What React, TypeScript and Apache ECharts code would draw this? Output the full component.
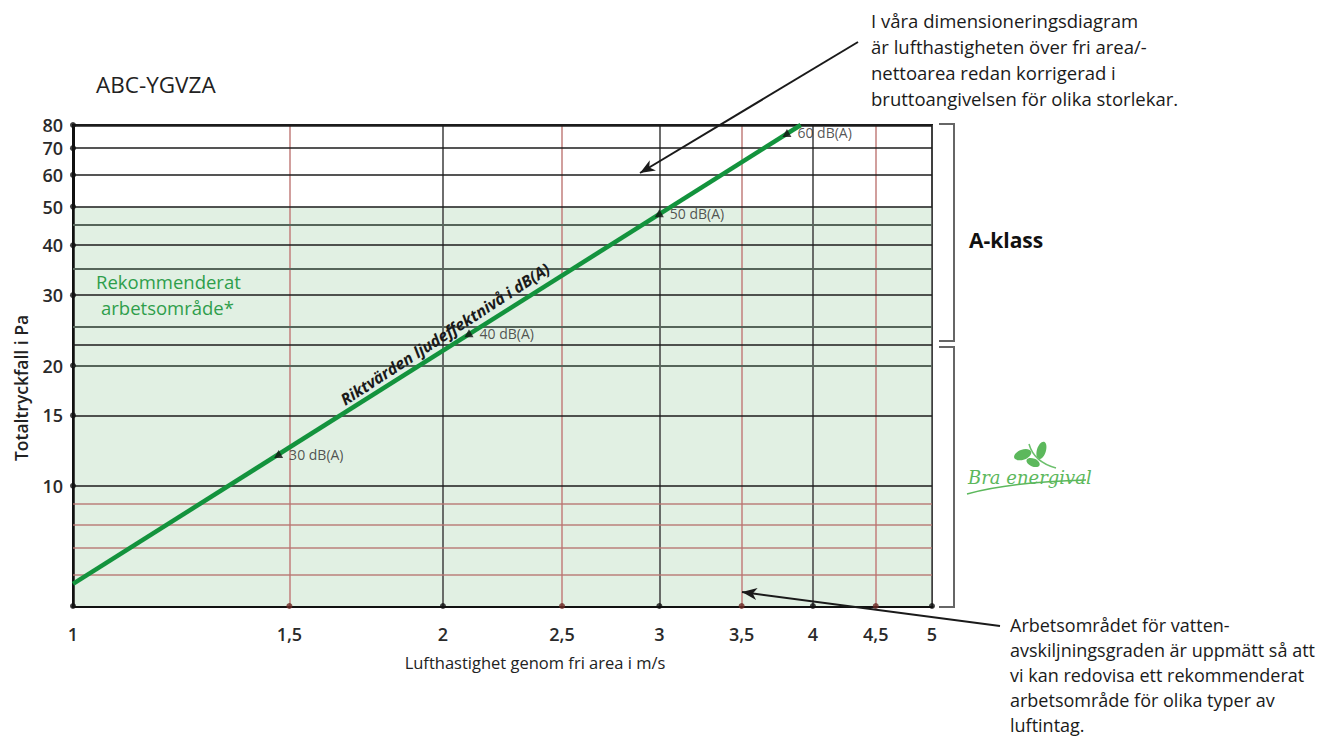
import React, { useEffect, useRef } from 'react';
import * as echarts from 'echarts';

// ---- data ----
const xTicks = [1, 1.5, 2, 2.5, 3, 3.5, 4, 4.5, 5];
const xTickLabels = ['1', '1,5', '2', '2,5', '3', '3,5', '4', '4,5', '5'];
const xRedLines = [1.5, 2.5, 3.5, 4.5];
const yTicks = [10, 15, 20, 30, 40, 50, 60, 70, 80];
const yBlackLines = [10, 15, 22.5, 30, 40, 50, 60, 70, 80];
const yGreyLines = [20, 25, 35, 45];
const yRedLines = [6, 7, 8, 9];
const xMin = 1;
const xMax = 5;
const yMin = 5;
const yMax = 80;
const zoneLow = 5;
const zoneHigh = 50;
const soundLineX = [1, 3.91];
const soundLineY = [5.68, 80];
const noiseX = [1.47, 2.1, 3.0, 3.81];
const noiseY = [12.0, 24.1, 48.1, 76.4];
const noiseLabels = ['30 dB(A)', '40 dB(A)', '50 dB(A)', '60 dB(A)'];

const FONT = '"Open Sans", "Noto Sans", sans-serif';

function arrowHead(tail: number[], tip: number[], len = 15, half = 6) {
  const dx = tip[0] - tail[0];
  const dy = tip[1] - tail[1];
  const L = Math.hypot(dx, dy);
  const ux = dx / L;
  const uy = dy / L;
  const bx = tip[0] - ux * len;
  const by = tip[1] - uy * len;
  const nx = tip[0] - ux * len * 0.72;
  const ny = tip[1] - uy * len * 0.72;
  return [
    [tip[0], tip[1]],
    [bx - uy * half, by + ux * half],
    [nx, ny],
    [bx + uy * half, by - ux * half],
  ];
}

export default function App() {
  const ref = useRef<HTMLDivElement>(null);
  useEffect(() => {
    if (!ref.current) return;
    const chart = echarts.init(ref.current, null, { renderer: 'svg' });

    const yLineStyle = (v: number) => {
      if (yRedLines.includes(v)) return { color: '#b77470', width: 1.5, type: 'solid', opacity: 0.9 };
      if (yGreyLines.includes(v)) return { color: '#56655a', width: 1.8, type: 'solid' };
      return { color: '#1c1c1c', width: v === yMax ? 2.5 : 1.5, type: 'solid' };
    };
    const yLineVals = [...yBlackLines, ...yGreyLines, ...yRedLines];
    const yItems = yLineVals.map((v) => ({
      yAxis: v,
      lineStyle: yLineStyle(v),
      label: {
        show: yTicks.includes(v),
        position: 'start',
        formatter: String(v),
        distance: 10,
        color: '#2a2a2a',
        fontSize: 18,
        lineHeight: 18,
        fontWeight: 600,
        fontFamily: FONT,
      },
    }));
    const xItems = xTicks.map((v, i) => ({
      xAxis: v,
      lineStyle: xRedLines.includes(v)
        ? { color: '#c27f7d', width: 1.5, type: 'solid' }
        : { color: v === xMin ? '#111' : '#4a4a4a', width: v === xMin ? 2.5 : 1.6, type: 'solid' },
      label: {
        show: true,
        position: 'start',
        formatter: xTickLabels[i],
        distance: 19,
        color: '#2a2a2a',
        fontSize: 18,
        fontWeight: 600,
        fontFamily: FONT,
      },
    }));

    const tickDots = [
      ...yTicks.map((v) => ({ value: [xMin, v], itemStyle: { color: '#111' } })),
      ...xTicks.map((v) => ({
        value: [v, yMin],
        itemStyle: { color: xRedLines.includes(v) ? '#6b2a26' : '#111' },
      })),
    ];

    const topTail = [858, 42];
    const topTip = [640, 173];
    const botTail = [1000, 626];
    const botTip = [742, 592];
    const Z = 100;

    chart.setOption({
      animation: false,
      grid: {
        left: 73,
        right: 1327 - 932,
        top: 125,
        bottom: 740 - 606,
        show: true,
        borderColor: '#1a1a1a',
        borderWidth: 2,
      },
      xAxis: {
        type: 'log',
        logBase: 10,
        min: xMin,
        max: xMax,
        axisLabel: { show: false },
        axisTick: { show: false },
        splitLine: { show: false },
        minorSplitLine: { show: false },
        axisLine: { show: true, lineStyle: { color: '#111', width: 3 } },
      },
      yAxis: {
        type: 'log',
        logBase: 10,
        min: yMin,
        max: yMax,
        axisLabel: { show: false },
        axisTick: { show: false },
        splitLine: { show: false },
        axisLine: { show: true, lineStyle: { color: '#111', width: 3 } },
      },
      series: [
        {
          type: 'line',
          data: [],
          z: 1,
          silent: true,
          markArea: {
            silent: true,
            itemStyle: { color: '#e1f0e3' },
            data: [[{ xAxis: xMin, yAxis: zoneLow }, { xAxis: xMax, yAxis: zoneHigh }]],
          },
        },
        {
          type: 'line',
          data: [],
          z: 2,
          silent: true,
          markLine: {
            silent: true,
            symbol: ['none', 'none'],
            emphasis: { disabled: true },
            data: [...xItems, ...yItems],
          },
        },
        {
          type: 'line',
          z: 5,
          symbol: 'none',
          silent: true,
          data: soundLineX.map((x, i) => [x, soundLineY[i]]),
          lineStyle: { color: '#13933d', width: 4.5 },
        },
        {
          type: 'scatter',
          z: 6,
          silent: true,
          symbol: 'triangle',
          symbolSize: [9, 8],
          itemStyle: { color: '#111' },
          data: noiseX.map((x, i) => [x, noiseY[i]]),
          label: {
            show: true,
            position: 'right',
            distance: 6,
            formatter: (p: any) => noiseLabels[p.dataIndex],
            color: '#2a2a2a',
            fontSize: 14,
            fontFamily: FONT,
          },
        },
        {
          type: 'scatter',
          z: 7,
          silent: true,
          clip: false,
          symbol: 'circle',
          symbolSize: 6,
          data: tickDots,
        },
      ],
      graphic: [
        {
          type: 'text',
          z: Z,
          x: 96,
          y: 84,
          style: { text: 'ABC-YGVZA', fontSize: 22.5, fontFamily: FONT, fill: '#222', verticalAlign: 'middle' },
        },
        {
          type: 'text',
          z: Z,
          x: 871,
          y: 7,
          style: {
            text: 'I våra dimensioneringsdiagram\när lufthastigheten över fri area/-\nnettoarea redan korrigerad i\nbruttoangivelsen för olika storlekar.',
            fontSize: 18.5,
            lineHeight: 26,
            fontFamily: FONT,
            fill: '#1a1a1a',
          },
        },
        {
          type: 'text',
          z: Z,
          x: 1010,
          y: 612,
          style: {
            text: 'Arbetsområdet för vatten-\navskiljningsgraden är uppmätt så att\nvi kan redovisa ett rekommenderat\narbetsområde för olika typer av\nluftintag.',
            fontSize: 18,
            lineHeight: 25,
            fontFamily: FONT,
            fill: '#1a1a1a',
          },
        },
        {
          type: 'line',
          z: Z,
          shape: { x1: topTail[0], y1: topTail[1], x2: topTip[0], y2: topTip[1] },
          style: { stroke: '#1a1a1a', lineWidth: 2 },
        },
        { type: 'polygon', z: Z, shape: { points: arrowHead(topTail, topTip) }, style: { fill: '#1a1a1a' } },
        {
          type: 'line',
          z: Z,
          shape: { x1: botTail[0], y1: botTail[1], x2: botTip[0], y2: botTip[1] },
          style: { stroke: '#1a1a1a', lineWidth: 2 },
        },
        { type: 'polygon', z: Z, shape: { points: arrowHead(botTail, botTip) }, style: { fill: '#1a1a1a' } },
        {
          type: 'polyline',
          z: Z,
          shape: { points: [[939, 124], [954, 124], [954, 341], [939, 341]] },
          style: { stroke: '#666', lineWidth: 2, fill: null },
        },
        {
          type: 'polyline',
          z: Z,
          shape: { points: [[939, 347], [954, 347], [954, 607], [939, 607]] },
          style: { stroke: '#666', lineWidth: 2, fill: null },
        },
        {
          type: 'text',
          z: Z,
          x: 969,
          y: 240,
          style: { text: 'A-klass', fontSize: 21, fontWeight: 'bold', fontFamily: FONT, fill: '#111', verticalAlign: 'middle' },
        },
        {
          type: 'text',
          z: Z,
          x: 96,
          y: 281,
          style: { text: 'Rekommenderat', fontSize: 18.5, fontFamily: FONT, fill: '#2e9e4b', verticalAlign: 'middle' },
        },
        {
          type: 'text',
          z: Z,
          x: 101,
          y: 307,
          style: { text: 'arbetsområde*', fontSize: 18.5, fontFamily: FONT, fill: '#2e9e4b', verticalAlign: 'middle' },
        },
        {
          type: 'text',
          z: Z,
          x: 445,
          y: 334,
          rotation: (33 * Math.PI) / 180,
          style: {
            text: 'Riktvärden ljudeffektnivå i dB(A)',
            fontSize: 16,
            fontWeight: 'bold',
            fontStyle: 'italic',
            fontFamily: FONT,
            fill: '#1a1a1a',
            align: 'center',
            verticalAlign: 'middle',
          },
        },
        {
          type: 'text',
          z: Z,
          x: 21,
          y: 388,
          rotation: Math.PI / 2,
          style: {
            text: 'Totaltryckfall i Pa',
            fontSize: 17.5,
            fontWeight: 600,
            fontFamily: FONT,
            fill: '#222',
            align: 'center',
            verticalAlign: 'middle',
          },
        },
        {
          type: 'text',
          z: Z,
          x: 535,
          y: 662,
          style: {
            text: 'Lufthastighet genom fri area i m/s',
            fontSize: 16.5,
            fontFamily: FONT,
            fill: '#222',
            align: 'center',
            verticalAlign: 'middle',
          },
        },
        // Bra energival logo
        {
          type: 'group',
          z: Z,
          children: [
            {
              type: 'ellipse',
              z: Z,
              shape: { cx: 1023, cy: 455, rx: 9, ry: 5 },
              rotation: 0.35,
              originX: 1023,
              originY: 455,
              style: { fill: '#5cb85c' },
            },
            {
              type: 'ellipse',
              z: Z,
              shape: { cx: 1042, cy: 450, rx: 4.5, ry: 9 },
              rotation: -0.3,
              originX: 1042,
              originY: 450,
              style: { fill: '#5cb85c' },
            },
            {
              type: 'ellipse',
              z: Z,
              shape: { cx: 1033, cy: 463, rx: 7, ry: 4 },
              rotation: -0.4,
              originX: 1033,
              originY: 463,
              style: { fill: '#5cb85c' },
            },
            {
              type: 'bezierCurve',
              z: Z,
              shape: { x1: 1029, y1: 444, cpx1: 1034, cpy1: 462, x2: 1056, y2: 468 },
              style: { stroke: '#6cc06c', lineWidth: 1.5, fill: null },
            },
            {
              type: 'text',
              z: Z,
              x: 968,
              y: 477,
              style: {
                text: 'Bra energival',
                fontSize: 18,
                fontStyle: 'italic',
                fontFamily: '"DejaVu Serif", serif',
                fill: '#5cb85c',
                verticalAlign: 'middle',
              },
            },
            {
              type: 'bezierCurve',
              z: Z,
              shape: { x1: 967, y1: 494, cpx1: 1010, cpy1: 482, x2: 1086, y2: 480 },
              style: { stroke: '#5cb85c', lineWidth: 1.5, fill: null },
            },
          ],
        },
      ],
    });
    return () => chart.dispose();
  }, []);
  return (
    <div
      ref={ref}
      style={{ position: 'fixed', left: 0, top: 0, width: 1327, height: 740, background: '#fff' }}
    />
  );
}
